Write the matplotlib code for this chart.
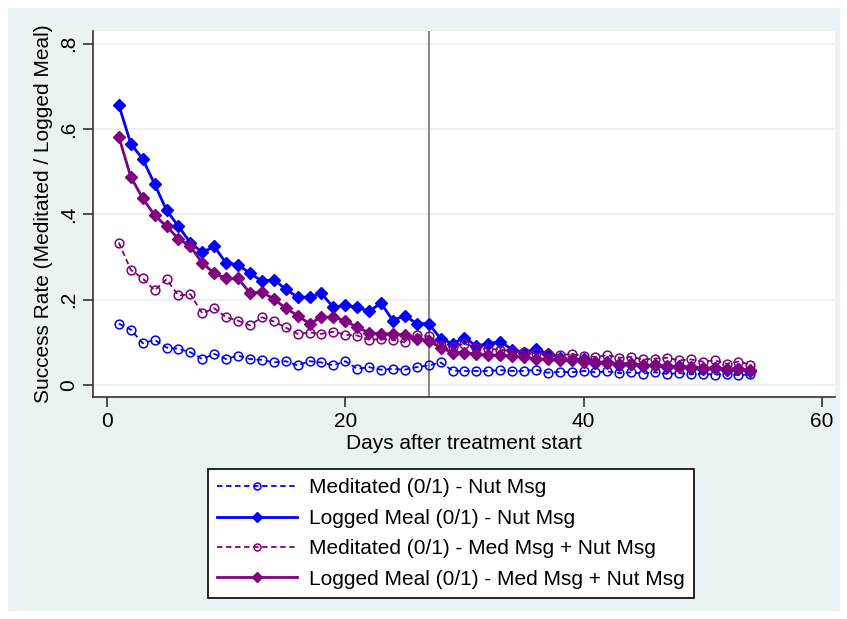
import numpy as np
import matplotlib.pyplot as plt
from matplotlib.patches import Rectangle

plt.rcParams['font.family'] = ['Liberation Sans', 'DejaVu Sans']

days = list(range(1, 55))

med_nut = [0.144, 0.130, 0.098, 0.106, 0.088, 0.085, 0.077, 0.061, 0.073, 0.061,
           0.069, 0.061, 0.059, 0.053, 0.056, 0.046, 0.056, 0.053, 0.046, 0.056,
           0.038, 0.042, 0.036, 0.038, 0.036, 0.042, 0.046, 0.053, 0.034, 0.033,
           0.033, 0.033, 0.035, 0.033, 0.033, 0.036, 0.029, 0.031, 0.030, 0.033,
           0.030, 0.032, 0.028, 0.030, 0.027, 0.030, 0.026, 0.028, 0.025, 0.027,
           0.024, 0.026, 0.023, 0.025]

meal_nut = [0.656, 0.566, 0.530, 0.471, 0.410, 0.372, 0.334, 0.311, 0.325, 0.286,
            0.282, 0.262, 0.244, 0.247, 0.225, 0.206, 0.206, 0.215, 0.182, 0.187,
            0.182, 0.173, 0.192, 0.151, 0.163, 0.144, 0.144, 0.109, 0.097, 0.111,
            0.092, 0.097, 0.102, 0.083, 0.076, 0.085, 0.073, 0.064, 0.058, 0.062,
            0.052, 0.055, 0.048, 0.050, 0.045, 0.047, 0.042, 0.044, 0.040, 0.038,
            0.040, 0.036, 0.038, 0.033]

med_both = [0.334, 0.270, 0.250, 0.222, 0.248, 0.210, 0.213, 0.168, 0.180, 0.159,
            0.151, 0.140, 0.159, 0.149, 0.135, 0.120, 0.123, 0.120, 0.125, 0.118,
            0.116, 0.106, 0.108, 0.106, 0.100, 0.118, 0.114, 0.093, 0.090, 0.097,
            0.088, 0.085, 0.083, 0.080, 0.078, 0.075, 0.072, 0.070, 0.073, 0.068,
            0.066, 0.070, 0.064, 0.066, 0.060, 0.062, 0.064, 0.058, 0.060, 0.055,
            0.058, 0.050, 0.055, 0.048]

meal_both = [0.582, 0.488, 0.438, 0.398, 0.372, 0.343, 0.325, 0.286, 0.262, 0.250,
             0.250, 0.216, 0.218, 0.202, 0.180, 0.163, 0.144, 0.159, 0.159, 0.151,
             0.135, 0.123, 0.120, 0.120, 0.118, 0.109, 0.104, 0.088, 0.076, 0.076,
             0.073, 0.070, 0.070, 0.068, 0.065, 0.062, 0.060, 0.058, 0.060, 0.055,
             0.054, 0.052, 0.050, 0.050, 0.047, 0.046, 0.045, 0.043, 0.042, 0.040,
             0.040, 0.038, 0.037, 0.036]

labels = ['Meditated (0/1) - Nut Msg', 'Logged Meal (0/1) - Nut Msg',
          'Meditated (0/1) - Med Msg + Nut Msg', 'Logged Meal (0/1) - Med Msg + Nut Msg']

x_ticks = [0, 20, 40, 60]
y_ticks = [0, 0.2, 0.4, 0.6, 0.8]
y_ticklabels = ['0', '.2', '.4', '.6', '.8']
treatment_cut = 27

blue = '#0000FF'
purple = '#800080'
bg = '#EAF2F3'

fig = plt.figure(figsize=(8.47, 6.19), dpi=100)
fig.patch.set_facecolor('white')
fig.patches.append(Rectangle((8 / 847, 8 / 619), 832 / 847, 603 / 619,
                             transform=fig.transFigure, facecolor=bg,
                             edgecolor='none', zorder=-10))

ax = fig.add_axes([93 / 847, 1 - 397 / 619, 742 / 847, 366 / 619])
ax.set_zorder(1)
ax.set_facecolor('white')

# dashed = meditated (hollow circles), solid = logged meal (diamonds)
ax.plot(days, med_nut, color=blue, ls='--', lw=1.3, marker='o', ms=6.3,
        mfc='none', mec=blue, mew=1.1, label=labels[0], dashes=(3, 2))
ax.plot(days, meal_nut, color=blue, ls='-', lw=2, marker='D', ms=6.3,
        mfc=blue, mec=blue, label=labels[1])
ax.plot(days, med_both, color=purple, ls='--', lw=1.3, marker='o', ms=6.3,
        mfc='none', mec=purple, mew=1.1, label=labels[2], dashes=(3, 2))
ax.plot(days, meal_both, color=purple, ls='-', lw=2, marker='D', ms=6.3,
        mfc=purple, mec=purple, label=labels[3])

ax.axvline(treatment_cut, color='#7f7f7f', lw=1.3, zorder=1)

ax.set_xlim(-1.17, 61.1)
ax.set_ylim(-0.028, 0.83)
ax.set_xticks(x_ticks)
ax.set_yticks(y_ticks)
ax.set_yticklabels(y_ticklabels, rotation=90, va='center')
ax.grid(axis='y', color=bg, lw=1.5, zorder=0)
ax.set_axisbelow(True)

for s in ['top', 'right']:
    ax.spines[s].set_visible(False)
for s in ['left', 'bottom']:
    ax.spines[s].set_color('#333333')
    ax.spines[s].set_linewidth(1.2)
ax.tick_params(direction='out', length=7, width=1.2, color='#333333',
               labelsize=15, pad=4)

ax.set_xlabel('Days after treatment start', fontsize=15, labelpad=2)
ax.set_ylabel('Success Rate (Meditated / Logged Meal)', fontsize=15, labelpad=4)

leg = fig.legend(loc='upper left', bbox_to_anchor=(208 / 847, 1 - 469 / 619),
                 borderaxespad=0, fontsize=15, frameon=True, fancybox=False,
                 edgecolor='black', facecolor='white', framealpha=1,
                 handlelength=3.8, labelspacing=0.55,
                 handletextpad=0.6, borderpad=0.45, markerscale=0.8)
leg.get_frame().set_linewidth(1.2)

fig.savefig('out.png', dpi=100, facecolor=fig.get_facecolor())
